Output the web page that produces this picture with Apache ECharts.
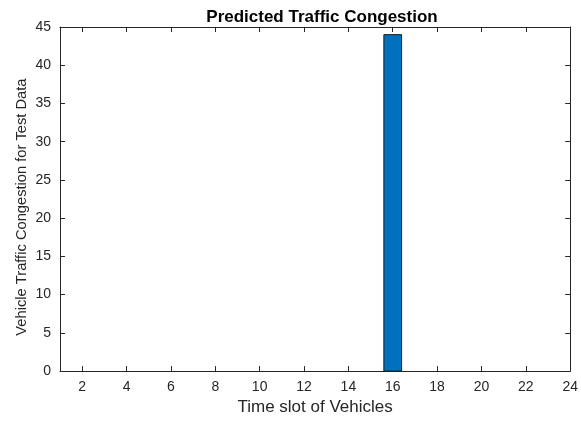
<!DOCTYPE html>
<html>
<head>
<meta charset="utf-8">
<script src="https://cdn.jsdelivr.net/npm/echarts@6/dist/echarts.min.js"></script>
<style>
html,body{margin:0;padding:0;background:#fff;}
#chart{width:581px;height:421px;}
</style>
</head>
<body>
<div id="chart"></div>
<script>
// Data
var timeSlots = [16];
var congestion = [44];
var xTickValues = [2, 4, 6, 8, 10, 12, 14, 16, 18, 20, 22, 24];
var yTickValues = [0, 5, 10, 15, 20, 25, 30, 35, 40, 45];
var titleText = 'Predicted Traffic Congestion';
var xName = 'Time slot of Vehicles';
var yName = 'Vehicle Traffic Congestion for Test Data';

var barData = timeSlots.map(function (s, i) { return [s, congestion[i]]; });
var axisColor = '#262626';
var font = 'Liberation Sans, Arial, sans-serif';

var chart = echarts.init(document.getElementById('chart'), null, {renderer: 'canvas'});
chart.setOption({
  animation: false,
  backgroundColor: '#fff',
  title: {
    text: titleText,
    left: 317, top: 4, textAlign: 'center',
    textStyle: {fontFamily: font, fontSize: 17, fontWeight: 'bold', color: '#000'}
  },
  grid: {left: 60, right: 8, top: 27, bottom: 44, containLabel: false},
  xAxis: [{
    type: 'value', min: 1, max: 24, position: 'bottom',
    name: xName, nameLocation: 'middle', nameGap: 25,
    nameTextStyle: {fontFamily: font, fontSize: 17, color: axisColor},
    axisLine: {show: true, lineStyle: {color: axisColor, width: 1}},
    axisTick: {show: true, inside: true, length: 5, customValues: xTickValues, lineStyle: {color: axisColor}},
    axisLabel: {show: true, customValues: xTickValues, fontFamily: font, fontSize: 14, color: axisColor, margin: 9},
    splitLine: {show: false}
  }, {
    type: 'value', min: 1, max: 24, position: 'top',
    axisLine: {show: true, onZero: false, lineStyle: {color: axisColor, width: 1}},
    axisTick: {show: true, inside: true, length: 5, customValues: xTickValues, lineStyle: {color: axisColor}},
    axisLabel: {show: false},
    splitLine: {show: false}
  }],
  yAxis: [{
    type: 'value', min: 0, max: 45, interval: 5, position: 'left',
    name: yName, nameLocation: 'middle', nameGap: 31, nameRotate: 90, nameMoveOverlap: false,
    nameTextStyle: {fontFamily: font, fontSize: 14.7, color: axisColor, padding: [0, 16, 0, 0]},
    axisLine: {show: true, lineStyle: {color: axisColor, width: 1}},
    axisTick: {show: true, inside: true, length: 5, lineStyle: {color: axisColor}},
    axisLabel: {show: true, fontFamily: font, fontSize: 14, color: axisColor, margin: 9},
    splitLine: {show: false}
  }, {
    type: 'value', min: 0, max: 45, interval: 5, position: 'right',
    axisLine: {show: true, onZero: false, lineStyle: {color: axisColor, width: 1}},
    axisTick: {show: true, inside: true, length: 5, lineStyle: {color: axisColor}},
    axisLabel: {show: false},
    splitLine: {show: false}
  }],
  series: [{
    type: 'custom',
    xAxisIndex: 0, yAxisIndex: 0,
    data: barData,
    renderItem: function (params, api) {
      var x = api.value(0), y = api.value(1);
      var p0 = api.coord([x - 0.4, y]);
      var p1 = api.coord([x + 0.4, 0]);
      return {
        type: 'rect',
        shape: {x: p0[0], y: p0[1], width: p1[0] - p0[0], height: p1[1] - p0[1]},
        style: {fill: '#0072BD', stroke: '#1a1a1a', lineWidth: 1}
      };
    }
  }]
});
</script>
</body>
</html>
